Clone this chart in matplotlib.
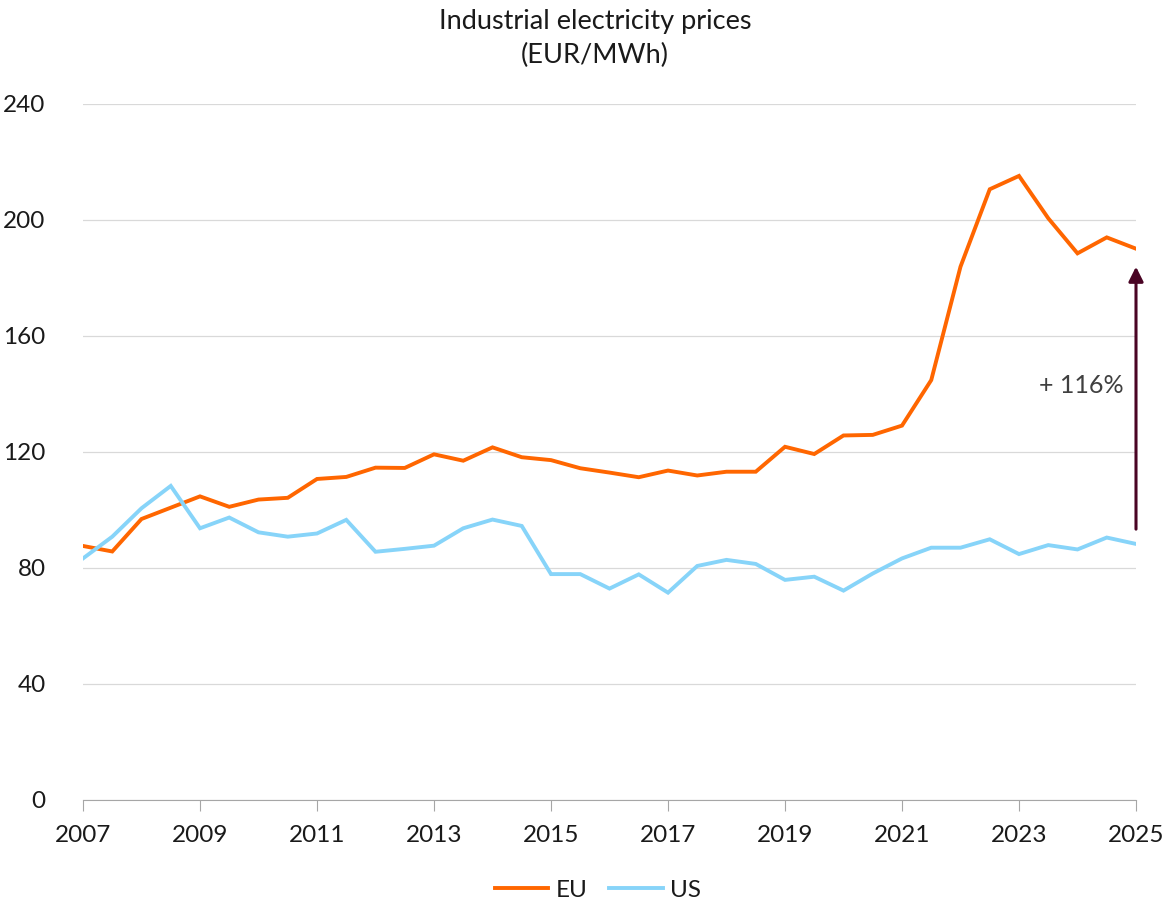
import numpy as np
import matplotlib
matplotlib.use("Agg")
import matplotlib.pyplot as plt
from matplotlib import font_manager

# half-yearly observations, 2007 - 2025
years = np.arange(2007, 2025.01, 0.5)

eu = [87.6, 85.7, 96.9, 100.8, 104.7, 101.1, 103.6, 104.2, 110.7, 111.4,
      114.6, 114.5, 119.2, 117.0, 121.6, 118.2, 117.2, 114.4, 112.9, 111.3,
      113.6, 111.9, 113.2, 113.2, 121.8, 119.3, 125.7, 125.9, 129.1, 144.8,
      183.9, 210.6, 215.2, 200.6, 188.5, 194.0, 190.1]

us = [83.3, 90.8, 100.6, 108.3, 93.7, 97.4, 92.3, 90.8, 91.9, 96.6,
      85.6, 86.6, 87.7, 93.7, 96.7, 94.5, 77.9, 77.9, 72.9, 77.8,
      71.5, 80.7, 82.8, 81.4, 75.9, 77.0, 72.2, 78.1, 83.3, 87.0,
      87.0, 89.9, 84.8, 87.9, 86.4, 90.5, 88.3]

yticks = [0, 40, 80, 120, 160, 200, 240]
xticks = list(range(2007, 2026, 2))

arrow_from = 93.4
arrow_to = 183.9
arrow_label = "+ 116%"

names = {f.name for f in font_manager.fontManager.ttflist}
fam = "Lato" if "Lato" in names else "DejaVu Sans"
plt.rcParams["font.family"] = [fam, "DejaVu Sans"]

txt = "#1a1a1a"
fs = 17.5
fig = plt.figure(figsize=(11.68, 9.07), dpi=100)
ax = fig.add_axes([83/1168, 1-800/907, (1136-83)/1168, (800-104)/907])

ax.plot(years, eu, color="#ff6600", lw=2.8, label="EU", solid_joinstyle="miter")
ax.plot(years, us, color="#87d4f9", lw=2.8, label="US", solid_joinstyle="miter")

ax.set_xlim(2007, 2025)
ax.set_ylim(0, 240)
ax.set_yticks(yticks)
ax.set_xticks(xticks)
ax.grid(axis="y", color="#d9d9d9", lw=0.9)
ax.set_axisbelow(True)
for s in ["top", "right", "left"]:
    ax.spines[s].set_visible(False)
ax.spines["bottom"].set_color("#a6a6a6")
ax.tick_params(axis="y", length=0, pad=27, labelsize=fs, labelcolor=txt)
ax.tick_params(axis="x", direction="out", length=8, color="#a6a6a6",
               pad=10, labelsize=fs, labelcolor=txt)

ax.annotate("", xy=(2025, arrow_to), xytext=(2025, arrow_from),
            arrowprops=dict(arrowstyle="-|>", color="#4a0424", lw=2.2,
                            mutation_scale=22, shrinkA=0, shrinkB=0))
ax.text(2024.78, 143, arrow_label, ha="right", va="center",
        fontsize=18, color="#404040")

fig.text(595/1168, 1-21/907, "Industrial electricity prices", ha="center",
         va="center", fontsize=19.5, color=txt)
fig.text(595/1168, 1-55/907, "(EUR/MWh)", ha="center", va="center",
         fontsize=19.5, color=txt)

fig.legend(loc="center", bbox_to_anchor=(598/1168, 1-890/907), ncol=2,
           frameon=False, fontsize=fs, handlelength=2.2, handletextpad=0.3,
           columnspacing=0.9, labelcolor=txt)

fig.savefig("out.png", dpi=100)
